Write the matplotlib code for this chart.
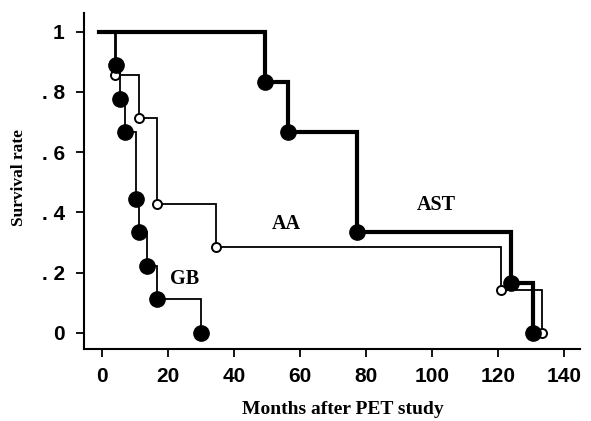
import matplotlib
matplotlib.use("Agg")
import matplotlib.pyplot as plt

# Data
gb_times = [4.3, 5.5, 7.1, 10.4, 11.3, 13.7, 16.7, 30.1]
gb_surv = [8/9, 7/9, 6/9, 4/9, 3/9, 2/9, 1/9, 0.0]

aa_times = [4.0, 11.3, 16.7, 34.6, 121.0, 133.5]
aa_surv = [6/7, 5/7, 3/7, 2/7, 1/7, 0.0]

ast_times = [49.4, 56.4, 77.4, 123.9, 130.5]
ast_surv = [5/6, 4/6, 2/6, 1/6, 0.0]

x_ticks = [0, 20, 40, 60, 80, 100, 120, 140]
y_ticks = [0, 0.2, 0.4, 0.6, 0.8, 1.0]
y_tick_labels = ["0", ". 2", ". 4", ". 6", ". 8", "1"]

tick_font = ["Liberation Sans Narrow", "Liberation Sans", "DejaVu Sans"]
serif_font = ["Liberation Serif", "DejaVu Serif"]

fig = plt.figure(figsize=(5.91, 4.21), dpi=100)
ax = fig.add_axes([0.1426, 0.1703, 0.981 - 0.1426, 0.969 - 0.1703])

def km(ax, times, surv, lw, start=0.0):
    xs = [start] + list(times)
    ys = [1.0] + list(surv)
    ax.step(xs, ys, where="post", color="black", lw=lw, solid_joinstyle="miter")

km(ax, gb_times, gb_surv, 1.3)
km(ax, aa_times, aa_surv, 1.3)
km(ax, ast_times, ast_surv, 3.0, start=-0.8)

ax.plot(aa_times, aa_surv, "o", ms=6.5, mfc="white", mec="black", mew=1.4, zorder=4)
ax.plot(gb_times, gb_surv, "o", ms=11, mfc="black", mec="black", zorder=5)
ax.plot(ast_times, ast_surv, "o", ms=11, mfc="black", mec="black", zorder=5)

ax.text(101.2, 0.425, "AST", family=serif_font, weight="bold", fontsize=14.5,
        ha="center", va="center")
ax.text(56, 0.362, "AA", family=serif_font, weight="bold", fontsize=14.5,
        ha="center", va="center")
ax.text(25.2, 0.18, "GB", family=serif_font, weight="bold", fontsize=14.5,
        ha="center", va="center")

ax.set_xlim(-5.3, 144.8)
ax.set_ylim(-0.055, 1.062)
ax.set_xticks(x_ticks)
ax.set_xticklabels([str(t) for t in x_ticks])
ax.set_yticks(y_ticks)
ax.set_yticklabels(y_tick_labels)

for lab in ax.get_xticklabels() + ax.get_yticklabels():
    lab.set_family(tick_font)
    lab.set_fontweight("bold")
    lab.set_fontsize(15)

ax.tick_params(axis="both", direction="out", length=6, width=1.3, color="black")
ax.tick_params(axis="y", pad=8)
ax.tick_params(axis="x", pad=7)

ax.spines["top"].set_visible(False)
ax.spines["right"].set_visible(False)
for s in ("left", "bottom"):
    ax.spines[s].set_linewidth(1.5)

ax.set_xlabel("Months after PET study", family=serif_font, weight="bold",
              fontsize=14)
ax.set_ylabel("Survival rate", family=serif_font, weight="bold",
              fontsize=12.5)
ax.xaxis.set_label_coords(0.522, -0.153)
ax.yaxis.set_label_coords(-0.116, 0.512)

fig.savefig("out.png", dpi=100)
